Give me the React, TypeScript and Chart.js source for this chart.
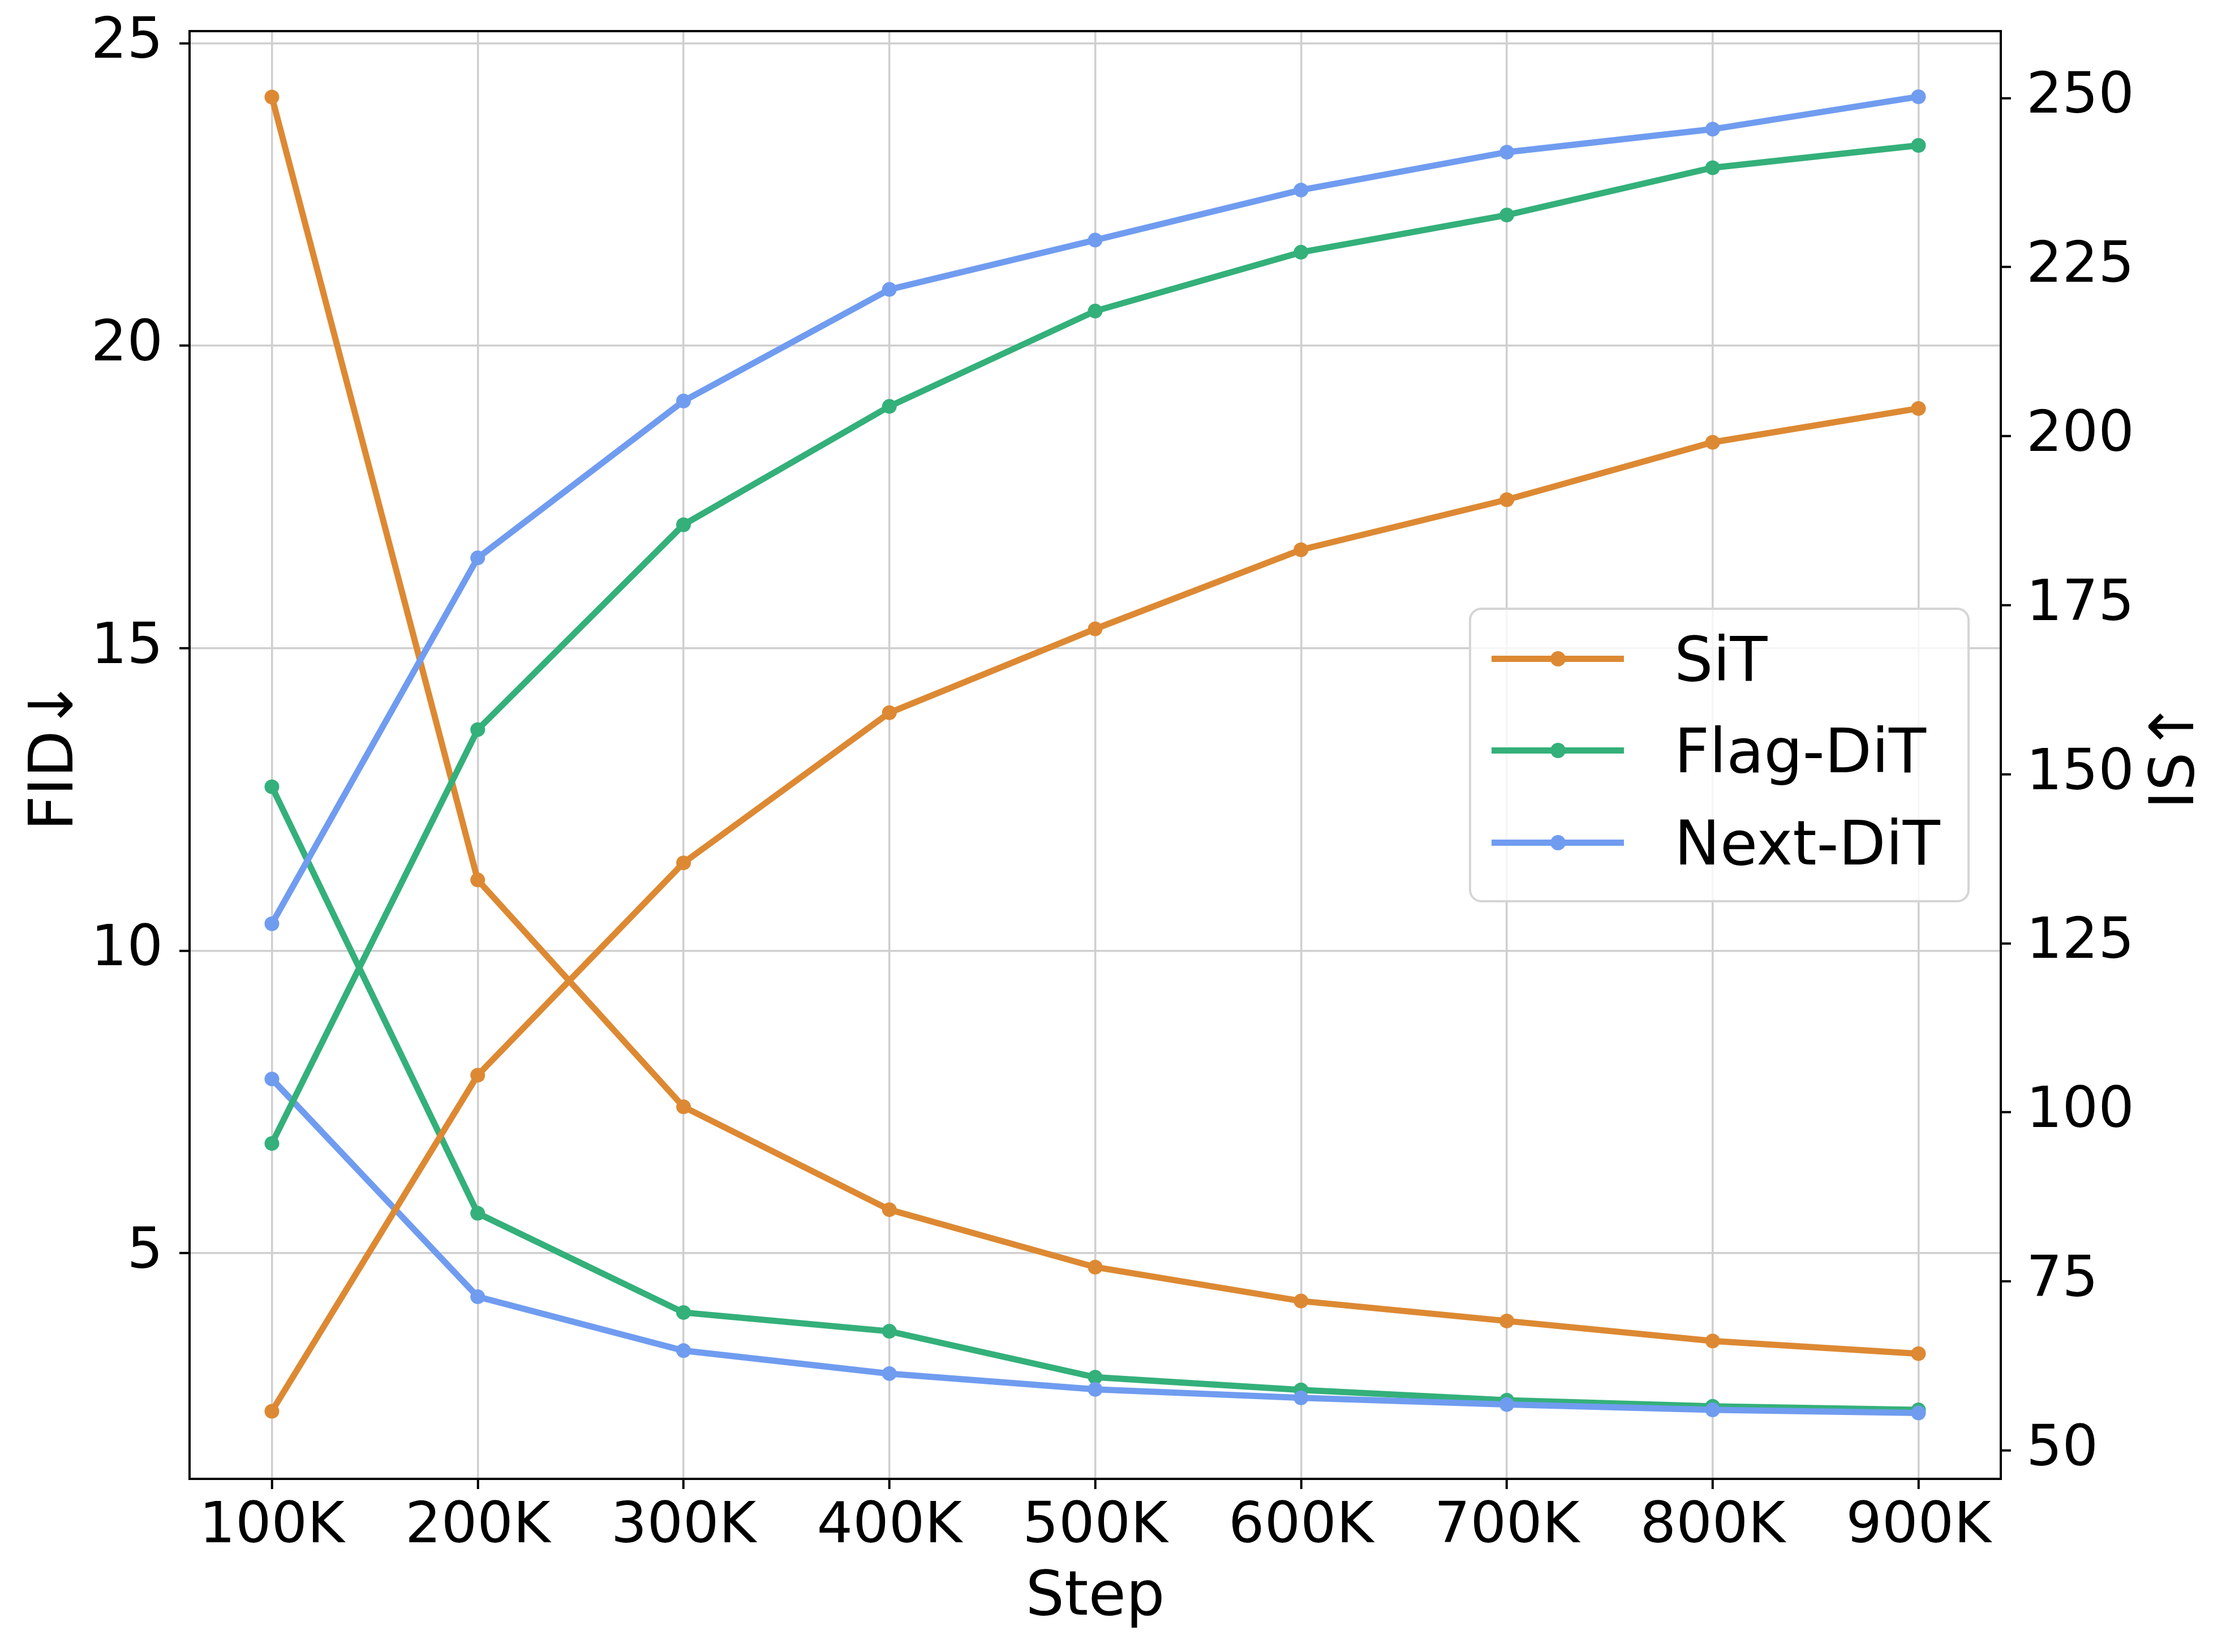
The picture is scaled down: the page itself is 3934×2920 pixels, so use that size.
import { useEffect, useRef } from "react";
import * as React from "react";
import { Chart, registerables } from "chart.js";

Chart.register(...registerables);

// training steps (x axis)
const steps = [100000, 200000, 300000, 400000, 500000, 600000, 700000, 800000, 900000];

// FID (left axis, lower is better)
const sitFid = [24.11, 11.17, 7.42, 5.72, 4.77, 4.21, 3.88, 3.55, 3.34];
const flagFid = [12.71, 5.66, 4.02, 3.71, 2.95, 2.74, 2.57, 2.47, 2.41];
const nextFid = [7.88, 4.28, 3.39, 3.01, 2.75, 2.61, 2.5, 2.41, 2.36];

// IS (right axis, higher is better)
const sitIs = [55.8, 105.5, 136.9, 159.1, 171.5, 183.2, 190.6, 199.1, 204.1];
const flagIs = [95.4, 156.6, 186.9, 204.4, 218.5, 227.2, 232.7, 239.7, 243.0];
const nextIs = [127.9, 182.0, 205.2, 221.7, 229.0, 236.4, 242.0, 245.4, 250.2];

const fidTicks = [5, 10, 15, 20, 25];
const isTicks = [50, 75, 100, 125, 150, 175, 200, 225, 250];

const seriesNames = ["SiT", "Flag-DiT", "Next-DiT"];
const seriesColors = ["#dd8933", "#34b07a", "#709cf0"];

const W = 3934;
const H = 2920;
const area = { left: 335, top: 55, right: 3536, bottom: 2614 };
const FONT = "'DejaVu Sans', sans-serif";

// axes frame on all four sides (chart.js only draws the scale side)
const framePlugin = {
  id: "frame",
  afterDatasetsDraw(chart: any) {
    const { ctx, chartArea } = chart;
    ctx.save();
    ctx.strokeStyle = "#000";
    ctx.lineWidth = 4;
    ctx.strokeRect(chartArea.left, chartArea.top, chartArea.right - chartArea.left, chartArea.bottom - chartArea.top);
    ctx.restore();
  },
};

// right axis title reads bottom-to-top like matplotlib's ylabel
const rightTitlePlugin = {
  id: "rightTitle",
  afterDraw(chart: any) {
    const { ctx, chartArea } = chart;
    ctx.save();
    ctx.translate(3848, (chartArea.top + chartArea.bottom) / 2);
    ctx.rotate(-Math.PI / 2);
    ctx.font = `108px ${FONT}`;
    ctx.fillStyle = "#000";
    ctx.textAlign = "center";
    ctx.textBaseline = "middle";
    ctx.fillText("IS↑", 0, 0);
    ctx.restore();
  },
};

const pts = (vals: number[]) => steps.map((s, i) => ({ x: s, y: vals[i] }));

const line = (label: string, color: string, vals: number[], axis: string) => ({
  label,
  data: pts(vals),
  yAxisID: axis,
  borderColor: color,
  backgroundColor: color,
  pointBackgroundColor: color,
  borderWidth: 11,
  pointRadius: 13,
  pointBorderWidth: 0,
  pointHoverRadius: 13,
  tension: 0,
  fill: false,
});

const gridBase = {
  color: "#cfcfcf",
  lineWidth: 3.5,
  tickColor: "#000",
  tickWidth: 4,
  tickLength: 18,
};

const ChartView: React.FC = () => {
  const chartRef = useRef<HTMLCanvasElement>(null);

  useEffect(() => {
    if (!chartRef.current) return;
    const tickFont = { family: FONT, size: 100, lineHeight: 1 };
    const titleFont = { family: FONT, size: 108, lineHeight: 1 };
    // first dataset is drawn on top, so IS goes first
    const chart = new Chart(chartRef.current, {
      type: "line",
      data: {
        datasets: [
          line("Next-DiT IS", seriesColors[2], nextIs, "yIs"),
          line("Flag-DiT IS", seriesColors[1], flagIs, "yIs"),
          line("SiT IS", seriesColors[0], sitIs, "yIs"),
          line("Next-DiT FID", seriesColors[2], nextFid, "yFid"),
          line("Flag-DiT FID", seriesColors[1], flagFid, "yFid"),
          line("SiT FID", seriesColors[0], sitFid, "yFid"),
        ],
      },
      options: {
        animation: false,
        responsive: true,
        maintainAspectRatio: false,
        layout: { padding: { top: area.top, left: 0, right: 0, bottom: 0 } },
        plugins: {
          legend: { display: false },
          tooltip: { enabled: false },
        },
        scales: {
          x: {
            type: "linear",
            min: 60000,
            max: 940000,
            afterBuildTicks: (s: any) => {
              s.ticks = steps.map((v) => ({ value: v }));
            },
            afterFit: (s: any) => {
              s.height = H - area.bottom;
            },
            ticks: {
              callback: (v: any) => `${Number(v) / 1000}K`,
              font: tickFont,
              color: "#000",
              padding: 18,
              maxRotation: 0,
              autoSkip: false,
            },
            grid: gridBase,
            border: { display: false },
            title: {
              display: true,
              text: "Step",
              color: "#000",
              font: titleFont,
              padding: { top: 0, bottom: 40 },
            },
          },
          yFid: {
            type: "linear",
            position: "left",
            min: 1.27,
            max: 25.2,
            afterBuildTicks: (s: any) => {
              s.ticks = fidTicks.map((v) => ({ value: v }));
            },
            afterFit: (s: any) => {
              s.width = area.left;
              s.paddingTop = 0;
              s.paddingBottom = 0;
            },
            ticks: { font: tickFont, color: "#000", padding: 29 },
            grid: gridBase,
            border: { display: false },
            title: {
              display: true,
              text: "FID↓",
              color: "#000",
              font: titleFont,
              padding: { top: 46, bottom: 0 },
            },
          },
          yIs: {
            type: "linear",
            position: "right",
            min: 45.8,
            max: 259.9,
            afterBuildTicks: (s: any) => {
              s.ticks = isTicks.map((v) => ({ value: v }));
            },
            afterFit: (s: any) => {
              s.width = W - area.right;
              s.paddingTop = 0;
              s.paddingBottom = 0;
            },
            ticks: { font: tickFont, color: "#000", padding: 27 },
            grid: { ...gridBase, drawOnChartArea: false },
            border: { display: false },
            title: { display: false },
          },
        },
      },
      plugins: [framePlugin, rightTitlePlugin],
    });

    return () => {
      chart.destroy();
    };
  }, []);

  return <canvas ref={chartRef}></canvas>;
};

// legend box, drawn over the plot like matplotlib's framed legend
const legendBox = { left: 2596, top: 1074, width: 885, height: 521 };
const rowCenters = [90, 252, 415];

const Legend: React.FC = () => (
  <div
    style={{
      position: "absolute",
      left: legendBox.left,
      top: legendBox.top,
      width: legendBox.width,
      height: legendBox.height,
      boxSizing: "border-box",
      border: "4px solid #d5d5d5",
      borderRadius: 22,
      background: "rgba(255,255,255,0.8)",
    }}
  >
    {seriesNames.map((name, i) => (
      <React.Fragment key={name}>
        <div
          style={{
            position: "absolute",
            left: 36,
            top: rowCenters[i] - 4 - 5.5,
            width: 234,
            height: 11,
            background: seriesColors[i],
          }}
        />
        <div
          style={{
            position: "absolute",
            left: 153 - 13.5,
            top: rowCenters[i] - 4 - 13.5,
            width: 27,
            height: 27,
            borderRadius: "50%",
            background: seriesColors[i],
          }}
        />
        <div
          style={{
            position: "absolute",
            left: 359,
            top: rowCenters[i] - 4 - 52,
            fontFamily: FONT,
            fontSize: 108,
            lineHeight: 1,
            color: "#000",
            whiteSpace: "nowrap",
          }}
        >
          {name}
        </div>
      </React.Fragment>
    ))}
  </div>
);

export default function App() {
  return (
    <div style={{ position: "absolute", left: 0, top: 0, width: W, height: H, background: "#fff" }}>
      <ChartView />
      <Legend />
    </div>
  );
}
